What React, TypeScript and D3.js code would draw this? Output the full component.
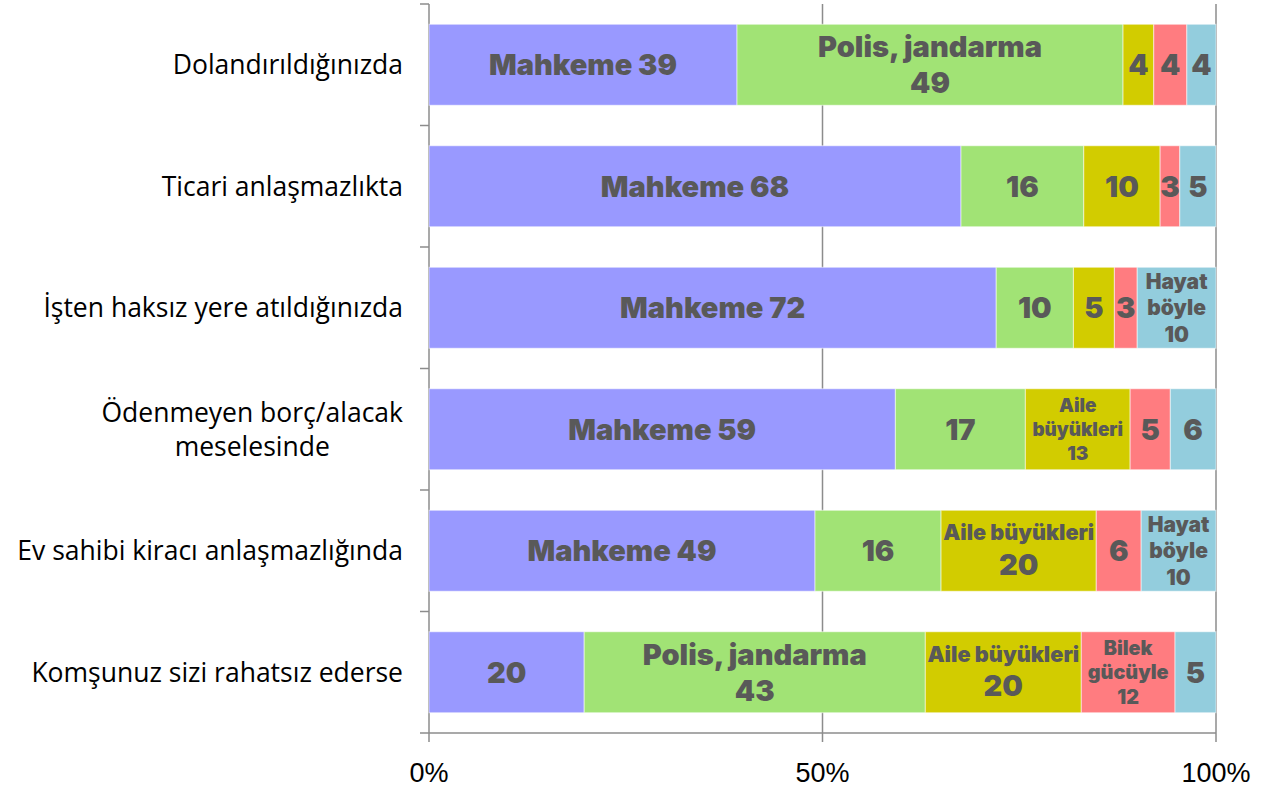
import React from "react";
import * as d3 from "d3";

const categories = [
  "Dolandırıldığınızda",
  "Ticari anlaşmazlıkta",
  "İşten haksız yere atıldığınızda",
  "Ödenmeyen borç/alacak\nmeselesinde",
  "Ev sahibi kiracı anlaşmazlığında",
  "Komşunuz sizi rahatsız ederse",
];

const seriesNames = ["Mahkeme", "Polis, jandarma", "Aile büyükleri", "Bilek gücüyle", "Hayat böyle"];
const seriesColors = ["#9999FF", "#A1E375", "#D2CC00", "#FF7C80", "#93CDDD"];

const mahkeme = [39.1, 67.6, 72.0, 59.2, 49.0, 19.7];
const polis = [49.0, 15.6, 9.8, 16.5, 16.0, 43.3];
const aile = [3.9, 9.7, 5.2, 13.3, 19.7, 19.8];
const bilek = [4.2, 2.5, 2.9, 5.1, 5.7, 11.9];
const hayat = [3.7, 4.6, 10.0, 5.8, 9.5, 5.2];

// whether the data label also shows the series name
const showName = [
  [true, true, false, false, false],
  [true, false, false, false, false],
  [true, false, false, false, true],
  [true, false, true, false, false],
  [true, false, true, false, true],
  [false, true, true, true, false],
];

const xTicks = [0, 0.5, 1];

const W = 1270;
const H = 792;
const M = { left: 429, right: 1216, top: 4, bottom: 733 };
const LABEL_FONT = "Inter, Lato, 'DejaVu Sans', sans-serif";
const LABEL_WEIGHT = 900;
const CAT_FONT = "'Open Sans', 'Liberation Sans', sans-serif";
const CAT_SIZE = 26.5;
const BASE = 29;

let ctx: CanvasRenderingContext2D | null = null;
function measure(text: string, size: number, font = LABEL_FONT, weight: number | string = LABEL_WEIGHT): number {
  if (!ctx) ctx = document.createElement("canvas").getContext("2d");
  if (!ctx) return text.length * size * 0.6;
  ctx.font = `${weight} ${size}px ${font}`;
  return ctx.measureText(text).width;
}

type Line = { text: string; size: number };

function layoutLabel(name: string | null, value: number, width: number): Line[] {
  const v = String(Math.round(value));
  const avail = width - 4;
  const fit = (t: string, max: number) => Math.min(max, (max * avail) / measure(t, max));
  if (!name) return [{ text: v, size: BASE }];
  const one = `${name} ${v}`;
  if (!name.includes(" ") && measure(one, BASE) <= avail) return [{ text: one, size: BASE }];
  if (measure(name, 18) <= avail) {
    return [
      { text: name, size: fit(name, BASE) },
      { text: v, size: BASE },
    ];
  }
  const words = name.split(" ");
  const maxW = d3.max(words, (w) => measure(w, 20)) || 1;
  const s = Math.min(21, (20 * avail * 0.9) / maxW);
  return [...words.map((w) => ({ text: w, size: s })), { text: v, size: s }];
}

export default function App() {
  const table = categories.map((c, i) => ({
    cat: c,
    s0: mahkeme[i],
    s1: polis[i],
    s2: aile[i],
    s3: bilek[i],
    s4: hayat[i],
  }));
  const keys = ["s0", "s1", "s2", "s3", "s4"];
  const stacked = d3.stack<any>().keys(keys).offset(d3.stackOffsetExpand)(table);
  const rawSeries = [mahkeme, polis, aile, bilek, hayat];

  const x = d3.scaleLinear().domain([0, 1]).range([M.left, M.right]);
  const y = d3
    .scaleBand<string>()
    .domain(categories)
    .range([M.top, M.bottom])
    .paddingInner(1 / 3)
    .paddingOuter(1 / 6);

  const step = y.step();
  const catTicks = d3.range(categories.length + 1).map((i) => M.top + i * step);

  return (
    <svg width={W} height={H} style={{ position: "absolute", left: 0, top: 0, background: "#fff" }}>
      {/* gridlines */}
      {xTicks.map((t) => (
        <line key={"g" + t} x1={x(t)} x2={x(t)} y1={M.top} y2={M.bottom + 9} stroke="#8c8c8c" strokeWidth={1.5} />
      ))}
      {/* category ticks */}
      {catTicks.map((t, i) => (
        <line key={"ct" + i} x1={M.left - 9} x2={M.left} y1={t} y2={t} stroke="#8c8c8c" strokeWidth={1.5} />
      ))}
      <line x1={M.left} x2={M.right} y1={M.bottom} y2={M.bottom} stroke="#8c8c8c" strokeWidth={1.5} />

      {/* bars */}
      {stacked.map((layer, si) =>
        layer.map((d, ri) => {
          const x0 = x(d[0]);
          const x1 = x(d[1]);
          const yy = y(categories[ri])!;
          return (
            <rect
              key={`r${si}-${ri}`}
              x={x0}
              y={yy}
              width={x1 - x0}
              height={y.bandwidth()}
              fill={seriesColors[si]}
              stroke="#ffffff"
              strokeOpacity={0.55}
              strokeWidth={1}
            />
          );
        })
      )}

      {/* bar labels */}
      {stacked.map((layer, si) =>
        layer.map((d, ri) => {
          const x0 = x(d[0]);
          const x1 = x(d[1]);
          const cx = (x0 + x1) / 2;
          const cy = y(categories[ri])! + y.bandwidth() / 2;
          const raw = rawSeries[si][ri];
          const lines = layoutLabel(showName[ri][si] ? seriesNames[si] : null, raw, x1 - x0);
          const heights = lines.map((l) => l.size * 1.25);
          const total = d3.sum(heights);
          let acc = cy - total / 2;
          return (
            <g key={`l${si}-${ri}`}>
              {lines.map((l, li) => {
                const top = acc;
                acc += heights[li];
                return (
                  <text
                    key={li}
                    x={cx}
                    y={top + heights[li] / 2 + l.size * 0.36}
                    textAnchor="middle"
                    fontFamily={LABEL_FONT}
                    fontWeight={LABEL_WEIGHT}
                    fontSize={l.size}
                    fill="#595959"
                  >
                    {l.text}
                  </text>
                );
              })}
            </g>
          );
        })
      )}

      {/* category labels */}
      {categories.map((c) => {
        const lines = c.split("\n");
        const cy = y(c)! + y.bandwidth() / 2;
        const lh = 34;
        const blockW = d3.max(lines, (l) => measure(l, CAT_SIZE, CAT_FONT, 400)) || 0;
        const centerX = 403 - blockW / 2;
        return (
          <g key={c}>
            {lines.map((l, li) => {
              const yy = cy + (li - (lines.length - 1) / 2) * lh + CAT_SIZE * 0.35;
              return (
                <text
                  key={li}
                  x={lines.length > 1 ? centerX : 403}
                  y={yy}
                  textAnchor={lines.length > 1 ? "middle" : "end"}
                  fontFamily={CAT_FONT}
                  fontSize={CAT_SIZE}
                  fill="#000"
                >
                  {l}
                </text>
              );
            })}
          </g>
        );
      })}

      {/* x tick labels */}
      {xTicks.map((t) => (
        <text
          key={"xl" + t}
          x={x(t)}
          y={782}
          textAnchor="middle"
          fontFamily="'Liberation Sans Narrow', 'Liberation Sans', sans-serif"
          fontSize={27}
          fill="#000"
        >
          {d3.format(".0%")(t)}
        </text>
      ))}
    </svg>
  );
}
